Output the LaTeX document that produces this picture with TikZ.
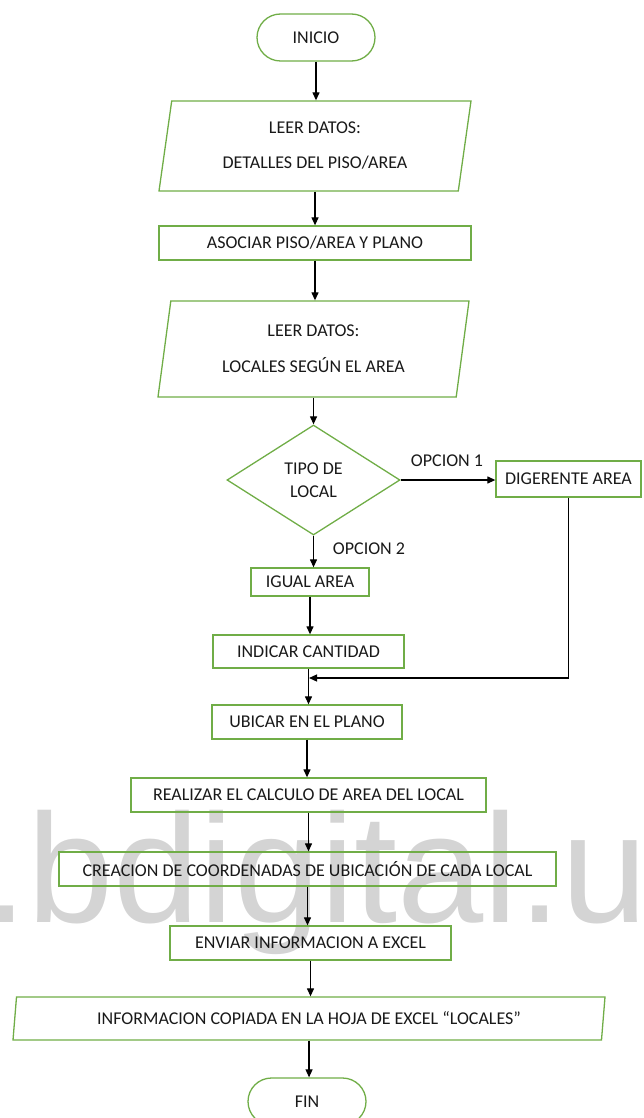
\documentclass[tikz,border=0pt]{standalone}
\usepackage{fontspec}
\setmainfont{Carlito}
\newfontfamily\marcafont{Liberation Sans}
\usetikzlibrary{shapes.geometric,shapes.misc,arrows.meta}
\definecolor{verdeborde}{RGB}{112,173,71}
\newcommand{\bordecolor}{verdeborde}
\newcommand{\textocolor}{black!90}
\newcommand{\marcacolor}{black!17}

\begin{document}
\begin{tikzpicture}[x=1pt,y=-1pt,>={Triangle[length=8pt,width=7pt]},
  every node/.style={font=\fontsize{18}{20}\selectfont,text=\textocolor},
  caja/.style={draw=\bordecolor,line width=1.3pt,rectangle,inner sep=0pt},
  terminal/.style={draw=\bordecolor,line width=1.3pt,rounded rectangle,minimum width=118pt,minimum height=47pt,inner sep=0pt},
  datos/.style={draw=\bordecolor,line width=1.3pt,trapezium,trapezium left angle=75,trapezium right angle=105,trapezium stretches body,inner sep=0pt,align=center},
  decision/.style={draw=\bordecolor,line width=1.3pt,diamond,minimum width=173pt,minimum height=110pt,inner sep=0pt,align=center},
  flecha/.style={->,line width=1.2pt,black}]

\useasboundingbox (0,0) rectangle (643,1118);

% marca de agua del repositorio
\node[font=\marcafont\fontsize{155}{155}\selectfont,text=\marcacolor,anchor=base west,inner sep=0pt] (marca) at (-16,922) {.bdigital.u};

\node[terminal] (inicio) at (316,37.5) {INICIO};
\node[datos,minimum width=312pt,minimum height=90pt,font=\fontsize{18}{35}\selectfont] (leer1) at (315,146) {LEER DATOS:\\DETALLES DEL PISO/AREA};
\node[caja,minimum width=312pt,minimum height=34pt] (asociar) at (315,243) {ASOCIAR PISO/AREA Y PLANO};
\node[datos,minimum width=311pt,minimum height=96pt,font=\fontsize{18}{36}\selectfont] (leer2) at (313.5,349) {LEER DATOS:\\LOCALES SEGÚN EL AREA};
\node[decision,font=\fontsize{18}{23}\selectfont] (tipo) at (313.5,480) {TIPO DE\\LOCAL};
\node[caja,minimum width=145pt,minimum height=36pt] (digerente) at (568.5,479) {DIGERENTE AREA};
\node[caja,minimum width=118pt,minimum height=28pt] (igual) at (310,582) {IGUAL AREA};
\node[caja,minimum width=191pt,minimum height=33pt] (indicar) at (308.5,651.5) {INDICAR CANTIDAD};
\node[caja,minimum width=190pt,minimum height=34pt] (ubicar) at (307,722) {UBICAR EN EL PLANO};
\node[caja,minimum width=355pt,minimum height=34pt] (realizar) at (308.5,795) {REALIZAR EL CALCULO DE AREA DEL LOCAL};
\node[caja,minimum width=497pt,minimum height=34pt] (creacion) at (307.5,869) {CREACION DE COORDENADAS DE UBICACIÓN DE CADA LOCAL};
\node[caja,minimum width=281pt,minimum height=34pt] (enviar) at (310.5,943) {ENVIAR INFORMACION A EXCEL};
\node[datos,minimum width=592pt,minimum height=43pt] (informacion) at (309,1018.5) {INFORMACION COPIADA EN LA HOJA DE EXCEL “LOCALES”};
\node[terminal] (fin) at (307,1101.5) {FIN};

\node (opcion1) at (447,461) {OPCION 1};
\node (opcion2) at (369,549) {OPCION 2};
\coordinate (junta) at (309,678);

\draw[flecha] (inicio.south) -- (inicio.south |- leer1.north);
\draw[flecha] (leer1.south) -- (leer1.south |- asociar.north);
\draw[flecha] (asociar.south) -- (asociar.south |- leer2.north);
\draw[flecha] (leer2.south) -- (leer2.south |- tipo.north);
\draw[flecha] (tipo.east) -- (tipo.east -| digerente.west);
\draw[flecha] (tipo.south) -- (tipo.south |- igual.north);
\draw[flecha] (igual.south) -- (igual.south |- indicar.north);
\draw[flecha] (digerente.south) |- (junta);
\draw[flecha] (indicar.south) -- (indicar.south |- ubicar.north);
\draw[flecha] (ubicar.south) -- (ubicar.south |- realizar.north);
\draw[flecha] (realizar.south) -- (realizar.south |- creacion.north);
\draw[flecha] (creacion.south) -- (creacion.south |- enviar.north);
\draw[flecha] (enviar.south) -- (enviar.south |- informacion.north);
\draw[flecha] (informacion.south) -- (informacion.south |- fin.north);

\end{tikzpicture}
\end{document}
